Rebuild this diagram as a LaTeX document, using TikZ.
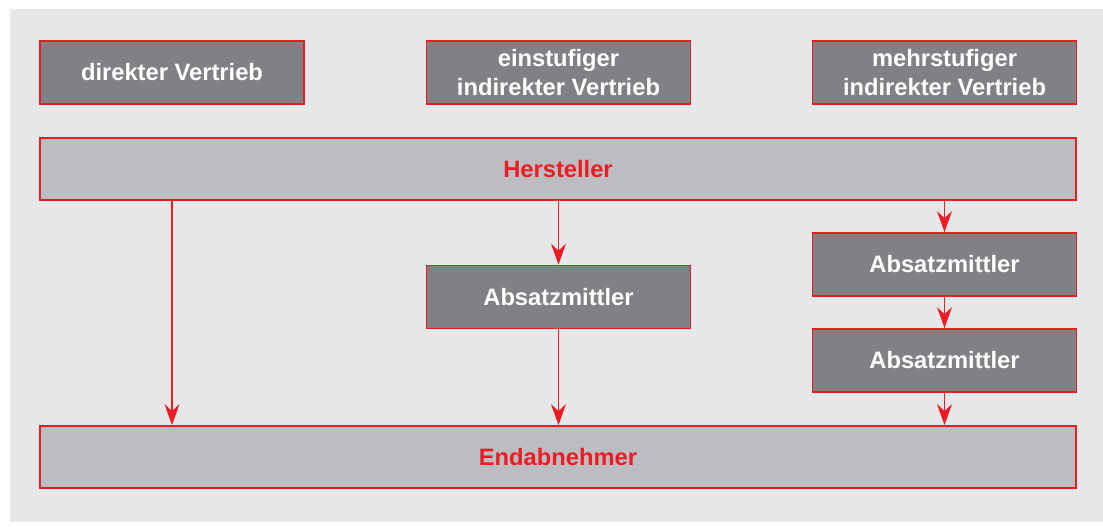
\documentclass[tikz,border=0pt]{standalone}
\usepackage{fontspec}
\setmainfont{Liberation Sans}
\usepackage{tikz}
\usetikzlibrary{arrows.meta}
\definecolor{cBg}{RGB}{230,231,232}
\definecolor{cDark}{RGB}{128,129,133}
\definecolor{cLight}{RGB}{188,189,192}
\definecolor{cRed}{RGB}{237,28,36}
\tikzset{
  stufe/.style={draw=cRed,line width=1pt,fill=cDark,text=white,font=\fontsize{13.5}{16.5}\selectfont\bfseries,
    align=center,inner sep=0pt,minimum width=5.28cm,minimum height=1.26cm},
  ebene/.style={draw=cRed,line width=1pt,fill=cLight,text=cRed,font=\fontsize{13.5}{16.5}\selectfont\bfseries,
    inner sep=0pt,minimum width=20.72cm,minimum height=1.24cm},
  pfeil/.style={draw=cRed,line width=0.7pt,-{Stealth[length=4.2mm,width=3mm,inset=1.4mm]}}
}

\begin{document}
\begin{tikzpicture}[x=0.02cm,y=-0.02cm]
\useasboundingbox (0,0) rectangle (1103,527);
\fill[cBg] (10,9) rectangle (1103,522);
% Vertriebsformen
\node[stufe] (direkt) at (172,72.5) {direkter Vertrieb};
\node[stufe] (einstufig) at (558.5,72.5) {einstufiger\\indirekter Vertrieb};
\node[stufe] (mehrstufig) at (944.5,72.5) {mehrstufiger\\indirekter Vertrieb};
% Hersteller und Endabnehmer
\node[ebene] (hersteller) at (558,169) {Hersteller};
\node[ebene] (endab) at (558,457) {Endabnehmer};
% Absatzmittler
\node[stufe] (am1) at (558.5,297) {Absatzmittler};
\node[stufe] (am2) at (944.5,264.5) {Absatzmittler};
\node[stufe] (am3) at (944.5,360.5) {Absatzmittler};
% Pfeile
\draw[pfeil] (hersteller.south -| direkt) -- (endab.north -| direkt);
\draw[pfeil] (hersteller.south -| am1) -- (am1.north);
\draw[pfeil] (am1.south) -- (endab.north -| am1);
\draw[pfeil] (hersteller.south -| am2) -- (am2.north);
\draw[pfeil] (am2.south) -- (am3.north);
\draw[pfeil] (am3.south) -- (endab.north -| am3);
\end{tikzpicture}
\end{document}
